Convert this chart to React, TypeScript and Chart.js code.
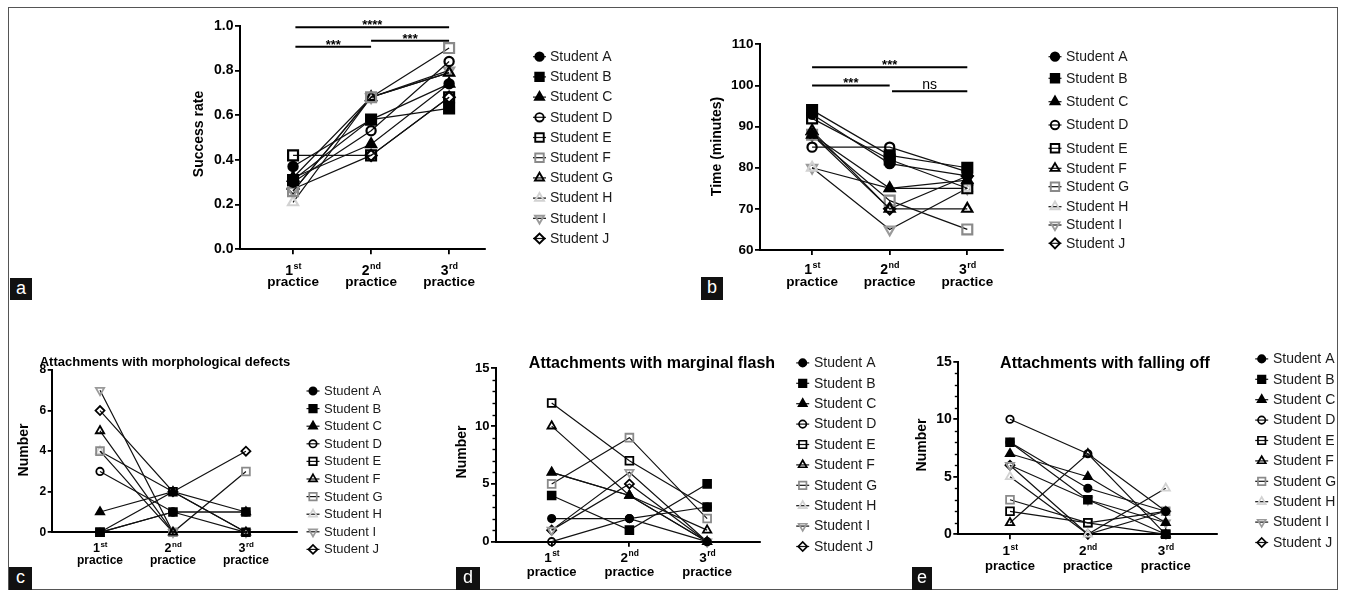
import React, { useEffect, useRef } from 'react';
import { Chart, registerables } from 'chart.js';

Chart.register(...registerables);

const FONT = "'Liberation Sans', Arial, Helvetica, sans-serif";

// ---------------- DATA ----------------
const students = [
  'Student A', 'Student B', 'Student C', 'Student D', 'Student E',
  'Student F', 'Student G', 'Student H', 'Student I', 'Student J',
];
const practiceX = [1, 2, 3];
const practiceNumbers = ['1', '2', '3'];
const practiceSuffixes = ['st', 'nd', 'rd'];
const practiceWord = 'practice';

// success rate per student: [1st, 2nd, 3rd]
const successRate = [
  [0.37, 0.58, 0.74],
  [0.31, 0.58, 0.63],
  [0.32, 0.47, 0.74],
  [0.30, 0.53, 0.84],
  [0.42, 0.42, 0.68],
  [0.26, 0.68, 0.90],
  [0.32, 0.68, 0.79],
  [0.21, 0.68, 0.79],
  [0.26, 0.68, 0.80],
  [0.27, 0.42, 0.68],
];
// time in minutes
const timeMinutes = [
  [93, 81, 78],
  [94, 83, 80],
  [88, 75, 77],
  [85, 85, 79],
  [92, 82, 75],
  [89, 70, 70],
  [88, 72, 65],
  [80, 75, 75],
  [80, 65, 75],
  [88, 70, 78],
];
// attachments with morphological defects
const morphDefects = [
  [0, 1, 1],
  [0, 1, 1],
  [1, 2, 1],
  [3, 1, 0],
  [0, 2, 0],
  [5, 0, 0],
  [4, 0, 3],
  [4, 2, 0],
  [7, 0, 0],
  [6, 2, 4],
];
// attachments with marginal flash
const marginalFlash = [
  [2, 2, 3],
  [4, 1, 5],
  [6, 4, 0],
  [0, 2, 0],
  [12, 7, 3],
  [10, 4, 1],
  [5, 9, 2],
  [6, 4, 0],
  [1, 6, 0],
  [1, 5, 0],
];
// attachments with falling off
const fallingOff = [
  [8, 4, 2],
  [8, 3, 0],
  [7, 5, 1],
  [10, 7, 2],
  [2, 1, 0],
  [1, 7, 0],
  [3, 1, 2],
  [5, 0, 4],
  [6, 3, 1],
  [6, 0, 2],
];

const sigSuccess = [
  { from: 1.03, to: 3, y: 0.993, text: '****' },
  { from: 1.03, to: 2, y: 0.906, text: '***' },
  { from: 2, to: 3, y: 0.933, text: '***' },
];
const sigTime = [
  { from: 1, to: 3, y: 104.4, text: '***' },
  { from: 1, to: 2, y: 100.0, text: '***' },
  { from: 2.03, to: 3, y: 98.6, text: 'ns' },
];

// ---------------- STYLES ----------------
type Shape = 'circle' | 'rect' | 'triangle' | 'triangleDown' | 'diamond';
type Mk = { shape: Shape; filled: boolean; color: string };
const BLACK = '#000000';
const GRAY = '#8a8a8a';
const LIGHT = '#d2d2d2';
const MID = '#9a9a9a';

const markersA: Mk[] = [
  { shape: 'circle', filled: true, color: BLACK },
  { shape: 'rect', filled: true, color: BLACK },
  { shape: 'triangle', filled: true, color: BLACK },
  { shape: 'circle', filled: false, color: BLACK },
  { shape: 'rect', filled: false, color: BLACK },
  { shape: 'rect', filled: false, color: GRAY },
  { shape: 'triangle', filled: false, color: BLACK },
  { shape: 'triangle', filled: false, color: LIGHT },
  { shape: 'triangleDown', filled: false, color: MID },
  { shape: 'diamond', filled: false, color: BLACK },
];
const markersB: Mk[] = [
  { shape: 'circle', filled: true, color: BLACK },
  { shape: 'rect', filled: true, color: BLACK },
  { shape: 'triangle', filled: true, color: BLACK },
  { shape: 'circle', filled: false, color: BLACK },
  { shape: 'rect', filled: false, color: BLACK },
  { shape: 'triangle', filled: false, color: BLACK },
  { shape: 'rect', filled: false, color: GRAY },
  { shape: 'triangle', filled: false, color: LIGHT },
  { shape: 'triangleDown', filled: false, color: MID },
  { shape: 'diamond', filled: false, color: BLACK },
];

type Sizes = { circle: number; rect: number; triangle: number; diamond: number; lw: number };
const bigSizes: Sizes = { circle: 4.6, rect: 7, triangle: 5.8, diamond: 5.6, lw: 2.2 };
const smallSizes: Sizes = { circle: 3.7, rect: 5.5, triangle: 4.8, diamond: 4.5, lw: 1.8 };
const bigLegendSizes: Sizes = { circle: 4.2, rect: 6, triangle: 5.2, diamond: 5, lw: 1.9 };
const smallLegendSizes: Sizes = { circle: 3.7, rect: 5.3, triangle: 4.7, diamond: 4.5, lw: 1.7 };

function sizeFor(s: Sizes, shape: Shape) {
  if (shape === 'circle') return s.circle;
  if (shape === 'rect') return s.rect;
  if (shape === 'diamond') return s.diamond;
  return s.triangle;
}

interface Panel {
  id: string;
  canvas: { x: number; y: number; w: number; h: number };
  plot: { l: number; t: number; r: number; b: number };
  xMin: number; xMax: number;
  yMin: number; yMax: number; yStep: number; yDec: number;
  minorStep?: number;
  values: number[][];
  markers: Mk[];
  sizes: Sizes;
  legendSizes: Sizes;
  tickFont: number;
  tickLen: number;
  xl: { digit: number; sup: number; word: number; digitBase: number; wordBase: number };
  yTitle: { text: string; x: number; y: number; size: number };
  title?: { text: string; x: number; y: number; size: number };
  sig?: { from: number; to: number; y: number; text: string }[];
  legend: { mx: number; tx: number; ys: number[]; size: number };
}

const seq = (start: number, step: number) => students.map((_, i) => start + i * step);

const panels: Panel[] = [
  {
    id: 'a',
    canvas: { x: 150, y: 0, w: 540, h: 300 },
    plot: { l: 240, t: 25.7, r: 485, b: 249.3 },
    xMin: 0.32, xMax: 3.46,
    yMin: 0, yMax: 1, yStep: 0.2, yDec: 1,
    values: successRate, markers: markersA,
    sizes: bigSizes, legendSizes: bigLegendSizes,
    tickFont: 14, tickLen: 5,
    xl: { digit: 14, sup: 9, word: 13.5, digitBase: 274.5, wordBase: 286 },
    yTitle: { text: 'Success rate', x: 199, y: 134, size: 14 },
    sig: sigSuccess,
    legend: { mx: 539.5, tx: 550, ys: seq(56.7, 20.2), size: 14 },
  },
  {
    id: 'b',
    canvas: { x: 690, y: 0, w: 520, h: 300 },
    plot: { l: 760, t: 44.3, r: 1003, b: 250 },
    xMin: 0.329, xMax: 3.46,
    yMin: 60, yMax: 110, yStep: 10, yDec: 0,
    values: timeMinutes, markers: markersB,
    sizes: bigSizes, legendSizes: bigLegendSizes,
    tickFont: 13.5, tickLen: 5,
    xl: { digit: 14, sup: 9, word: 13.5, digitBase: 274, wordBase: 285.5 },
    yTitle: { text: 'Time (minutes)', x: 717.5, y: 146.5, size: 14 },
    sig: sigTime,
    legend: { mx: 1055, tx: 1066, ys: [56.7, 78.3, 101.7, 125, 148.3, 168.3, 186.7, 206.7, 225, 243.3], size: 14 },
  },
  {
    id: 'c',
    canvas: { x: 10, y: 340, w: 440, h: 250 },
    plot: { l: 51.7, t: 370, r: 297, b: 532.3 },
    xMin: 0.338, xMax: 3.7,
    yMin: 0, yMax: 8, yStep: 2, yDec: 0,
    values: morphDefects, markers: markersB,
    sizes: smallSizes, legendSizes: smallLegendSizes,
    tickFont: 12, tickLen: 4,
    xl: { digit: 12.5, sup: 8, word: 12, digitBase: 551.5, wordBase: 564 },
    yTitle: { text: 'Number', x: 24, y: 450, size: 14 },
    title: { text: 'Attachments with morphological defects', x: 165, y: 362, size: 13 },
    legend: { mx: 313, tx: 324, ys: seq(391, 17.6), size: 13 },
  },
  {
    id: 'd',
    canvas: { x: 450, y: 340, w: 455, h: 250 },
    plot: { l: 496, t: 368.3, r: 760, b: 541.7 },
    xMin: 0.284, xMax: 3.68,
    yMin: 0, yMax: 15, yStep: 5, yDec: 0, minorStep: 1,
    values: marginalFlash, markers: markersB,
    sizes: smallSizes, legendSizes: smallLegendSizes,
    tickFont: 13, tickLen: 5,
    xl: { digit: 13.5, sup: 8.5, word: 13, digitBase: 561.5, wordBase: 576 },
    yTitle: { text: 'Number', x: 462, y: 452, size: 14 },
    title: { text: 'Attachments with marginal flash', x: 652, y: 364, size: 16 },
    legend: { mx: 802.7, tx: 814, ys: seq(362.9, 20.4), size: 14 },
  },
  {
    id: 'e',
    canvas: { x: 905, y: 340, w: 432, h: 250 },
    plot: { l: 958.3, t: 361.7, r: 1216.7, b: 534.3 },
    xMin: 0.336, xMax: 3.655,
    yMin: 0, yMax: 15, yStep: 5, yDec: 0, minorStep: 1,
    values: fallingOff, markers: markersB,
    sizes: smallSizes, legendSizes: smallLegendSizes,
    tickFont: 14, tickLen: 5,
    xl: { digit: 13.5, sup: 8.5, word: 13, digitBase: 555, wordBase: 569.5 },
    yTitle: { text: 'Number', x: 922, y: 445, size: 14 },
    title: { text: 'Attachments with falling off', x: 1105, y: 364, size: 16 },
    legend: { mx: 1261.7, tx: 1273, ys: seq(358.9, 20.4), size: 14 },
  },
];

const Y_AXIS_W = 35;
const X_AXIS_H = 8;

function drawMarker(ctx: CanvasRenderingContext2D, m: Mk, x: number, y: number, r: number, lw: number) {
  ctx.save();
  ctx.beginPath();
  if (m.shape === 'circle') {
    ctx.arc(x, y, r, 0, Math.PI * 2);
  } else if (m.shape === 'rect') {
    const s = r * Math.SQRT1_2;
    ctx.rect(x - s, y - s, 2 * s, 2 * s);
  } else if (m.shape === 'diamond') {
    ctx.moveTo(x - r, y);
    ctx.lineTo(x, y - r);
    ctx.lineTo(x + r, y);
    ctx.lineTo(x, y + r);
    ctx.closePath();
  } else {
    let rad = m.shape === 'triangleDown' ? Math.PI : 0;
    ctx.moveTo(x + Math.sin(rad) * r, y - Math.cos(rad) * r);
    rad += (2 * Math.PI) / 3;
    ctx.lineTo(x + Math.sin(rad) * r, y - Math.cos(rad) * r);
    rad += (2 * Math.PI) / 3;
    ctx.lineTo(x + Math.sin(rad) * r, y - Math.cos(rad) * r);
    ctx.closePath();
  }
  if (m.filled) {
    ctx.fillStyle = m.color;
    ctx.fill();
  }
  ctx.strokeStyle = m.color;
  ctx.lineWidth = lw;
  ctx.stroke();
  ctx.restore();
}

function makeOverlay(p: Panel) {
  return {
    id: 'overlay_' + p.id,
    afterDraw(chart: any) {
      const ctx: CanvasRenderingContext2D = chart.ctx;
      const ox = p.canvas.x;
      const oy = p.canvas.y;
      const xs = chart.scales.x;
      const ys = chart.scales.y;
      const area = chart.chartArea;
      ctx.save();

      // minor ticks
      if (p.minorStep) {
        ctx.strokeStyle = '#000';
        ctx.lineWidth = 1.4;
        for (let v = p.yMin; v <= p.yMax + 1e-9; v += p.minorStep) {
          if (Math.abs(v / p.yStep - Math.round(v / p.yStep)) < 1e-9) continue;
          const py = Math.round(ys.getPixelForValue(v)) + 0.5;
          ctx.beginPath();
          ctx.moveTo(area.left, py);
          ctx.lineTo(area.left - 3.5, py);
          ctx.stroke();
        }
      }

      // x labels with superscripts
      ctx.fillStyle = '#000';
      practiceX.forEach((v, i) => {
        const px = xs.getPixelForValue(v);
        const dFont = `bold ${p.xl.digit}px ${FONT}`;
        const sFont = `bold ${p.xl.sup}px ${FONT}`;
        ctx.font = dFont;
        const dw = ctx.measureText(practiceNumbers[i]).width;
        ctx.font = sFont;
        const sw = ctx.measureText(practiceSuffixes[i]).width;
        const start = px - (dw + sw) / 2;
        ctx.textAlign = 'left';
        ctx.textBaseline = 'alphabetic';
        ctx.font = dFont;
        ctx.fillText(practiceNumbers[i], start, p.xl.digitBase - oy);
        ctx.font = sFont;
        ctx.fillText(practiceSuffixes[i], start + dw + 0.5, p.xl.digitBase - oy - p.xl.digit * 0.4);
        ctx.font = `bold ${p.xl.word}px ${FONT}`;
        ctx.textAlign = 'center';
        ctx.fillText(practiceWord, px, p.xl.wordBase - oy);
      });

      // y title
      ctx.save();
      ctx.translate(p.yTitle.x - ox, p.yTitle.y - oy);
      ctx.rotate(-Math.PI / 2);
      ctx.font = `bold ${p.yTitle.size}px ${FONT}`;
      ctx.textAlign = 'center';
      ctx.textBaseline = 'middle';
      ctx.fillText(p.yTitle.text, 0, 0);
      ctx.restore();

      // chart title
      if (p.title) {
        ctx.font = `bold ${p.title.size}px ${FONT}`;
        ctx.textAlign = 'center';
        ctx.textBaseline = 'middle';
        ctx.fillText(p.title.text, p.title.x - ox, p.title.y - oy);
      }

      // significance bars
      if (p.sig) {
        p.sig.forEach((s) => {
          const x1 = xs.getPixelForValue(s.from);
          const x2 = xs.getPixelForValue(s.to);
          const y = ys.getPixelForValue(s.y);
          ctx.strokeStyle = '#000';
          ctx.lineWidth = 2;
          ctx.beginPath();
          ctx.moveTo(x1, y);
          ctx.lineTo(x2, y);
          ctx.stroke();
          ctx.textAlign = 'center';
          ctx.textBaseline = 'alphabetic';
          if (s.text === 'ns') {
            ctx.font = `${14}px ${FONT}`;
            ctx.fillText(s.text, (x1 + x2) / 2, y - 2.5);
          } else {
            ctx.font = `bold ${13}px ${FONT}`;
            ctx.fillText(s.text, (x1 + x2) / 2, y + 2);
          }
        });
      }

      // legend
      students.forEach((name, i) => {
        const y = p.legend.ys[i] - oy;
        const mx = p.legend.mx - ox;
        ctx.strokeStyle = '#111';
        ctx.lineWidth = 1.2;
        ctx.beginPath();
        ctx.moveTo(mx - 6.5, y);
        ctx.lineTo(mx + 6.5, y);
        ctx.stroke();
        const m = p.markers[i];
        drawMarker(ctx, m, mx, y, sizeFor(p.legendSizes, m.shape), p.legendSizes.lw);
        ctx.fillStyle = '#1a1a1a';
        ctx.font = `${p.legend.size}px ${FONT}`;
        ctx.textAlign = 'left';
        ctx.textBaseline = 'middle';
        ctx.fillText(name, p.legend.tx - ox, y + 0.5);
      });

      ctx.restore();
    },
  };
}

function buildConfig(p: Panel): any {
  const datasets = p.values.map((vals, i) => {
    const m = p.markers[i];
    return {
      label: students[i],
      data: vals.map((y, j) => ({ x: practiceX[j], y })),
      borderColor: '#111111',
      borderWidth: 1.2,
      tension: 0,
      fill: false,
      clip: false,
      pointStyle: m.shape === 'diamond' ? 'rectRot' : m.shape === 'triangleDown' ? 'triangle' : m.shape,
      rotation: m.shape === 'triangleDown' ? 180 : 0,
      pointRotation: m.shape === 'triangleDown' ? 180 : 0,
      pointRadius: sizeFor(p.sizes, m.shape),
      pointHoverRadius: sizeFor(p.sizes, m.shape),
      pointBorderColor: m.color,
      pointBackgroundColor: m.filled ? m.color : 'rgba(255,255,255,0)',
      pointBorderWidth: p.sizes.lw,
    };
  });
  const padLeft = p.plot.l - p.canvas.x - Y_AXIS_W;
  const padRight = p.canvas.x + p.canvas.w - p.plot.r;
  const padTop = p.plot.t - p.canvas.y;
  const padBottom = p.canvas.y + p.canvas.h - p.plot.b - X_AXIS_H;
  return {
    type: 'line',
    data: { datasets },
    options: {
      animation: false,
      responsive: false,
      maintainAspectRatio: false,
      events: [],
      layout: { padding: { left: padLeft, right: padRight, top: padTop, bottom: padBottom } },
      plugins: { legend: { display: false }, tooltip: { enabled: false }, title: { display: false } },
      scales: {
        x: {
          type: 'linear',
          min: p.xMin,
          max: p.xMax,
          afterBuildTicks: (s: any) => {
            s.ticks = practiceX.map((v) => ({ value: v }));
          },
          ticks: { autoSkip: false, callback: () => '', display: true },
          grid: { display: true, drawOnChartArea: false, drawTicks: true, tickLength: p.tickLen, color: '#000', lineWidth: 1.8 },
          border: { display: true, color: '#000', width: 2 },
          afterFit: (s: any) => {
            s.height = X_AXIS_H;
          },
        },
        y: {
          type: 'linear',
          min: p.yMin,
          max: p.yMax,
          ticks: {
            stepSize: p.yStep,
            color: '#000',
            padding: 1.5,
            font: { family: FONT, size: p.tickFont, weight: 'bold' },
            callback: (v: any) => Number(v).toFixed(p.yDec),
          },
          grid: { display: true, drawOnChartArea: false, drawTicks: true, tickLength: p.tickLen, color: '#000', lineWidth: 1.8 },
          border: { display: true, color: '#000', width: 2 },
          afterFit: (s: any) => {
            s.width = Y_AXIS_W;
          },
        },
      },
    },
    plugins: [makeOverlay(p)],
  };
}

function PanelChart({ p }: { p: Panel }) {
  const ref = useRef<HTMLCanvasElement | null>(null);
  useEffect(() => {
    if (!ref.current) return;
    const chart = new Chart(ref.current, buildConfig(p));
    return () => chart.destroy();
  }, [p]);
  return (
    <canvas
      ref={ref}
      width={p.canvas.w}
      height={p.canvas.h}
      style={{ position: 'absolute', left: p.canvas.x, top: p.canvas.y, width: p.canvas.w, height: p.canvas.h }}
    />
  );
}

const panelLabels = [
  { t: 'a', x: 10, y: 278, w: 22, h: 22 },
  { t: 'b', x: 701, y: 277, w: 22, h: 23 },
  { t: 'c', x: 9, y: 567, w: 23, h: 23 },
  { t: 'd', x: 456, y: 567, w: 24, h: 23 },
  { t: 'e', x: 912, y: 567, w: 20, h: 23 },
];

export default function App() {
  return (
    <div style={{ position: 'absolute', left: 0, top: 0, width: 1346, height: 591, background: '#fff', overflow: 'hidden' }}>
      <div
        style={{
          position: 'absolute', left: 8, top: 7, width: 1330, height: 583,
          border: '1px solid #555', boxSizing: 'border-box',
        }}
      />
      {panels.map((p) => (
        <PanelChart key={p.id} p={p} />
      ))}
      {panelLabels.map((l) => (
        <div
          key={l.t}
          style={{
            position: 'absolute', left: l.x, top: l.y, width: l.w, height: l.h,
            background: '#111', color: '#fff', fontFamily: FONT, fontSize: 18,
            lineHeight: l.h - 2 + 'px', textAlign: 'center',
          }}
        >
          {l.t}
        </div>
      ))}
    </div>
  );
}
